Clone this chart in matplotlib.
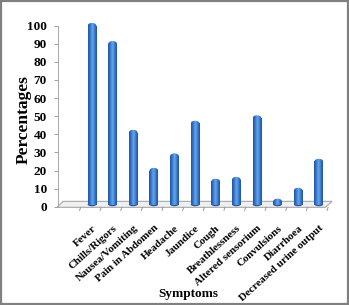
import numpy as np
import matplotlib
matplotlib.use("Agg")
import matplotlib.pyplot as plt
from matplotlib.patches import Polygon, Rectangle, Ellipse
from matplotlib.colors import LinearSegmentedColormap

categories = ["Fever", "Chills/Rigors", "Nausea/Vomiting", "Pain in Abdomen",
              "Headache", "Jaundice", "Cough", "Breathlessness",
              "Altered sensorium", "Convulsions", "Diarrhoea",
              "Decreased urine output"]
values = [100, 90, 41, 20, 28, 46, 14, 15, 49, 3, 9, 25]
yticks = list(range(0, 101, 10))

plt.rcParams['font.family'] = ['Liberation Serif', 'DejaVu Serif']

fig = plt.figure(figsize=(3.49, 3.05), dpi=100)
fig.patch.set_facecolor("white")
fig.add_artist(Rectangle((0.003, 0.003), 0.994, 0.994, transform=fig.transFigure,
                         fill=False, edgecolor="#808080", linewidth=1.6))

ymax = 103
ax = fig.add_axes([0.166, 0.322, 0.78, 0.594 * ymax / 100])
n = len(categories)
x = np.arange(n)
ax.set_xlim(-1.65, n - 0.45)

# floor
floor = Polygon([(-1.7, -0.3), (n - 0.69, -0.3), (n - 0.35, 3.0), (-1.4, 3.0)],
                closed=True, facecolor="#f0f0f0", edgecolor="#a8a8a8",
                linewidth=0.8, clip_on=False, zorder=1)
ax.add_patch(floor)

cmap = LinearSegmentedColormap.from_list(
    "cyl", ["#2353a0", "#3477cc", "#6aa6ea", "#3a7dd0", "#21509a"])
grad = np.linspace(0, 1, 64).reshape(1, -1)
w = 0.42
cap = 1.5
for xi, v in zip(x, values):
    ytop = v
    body = Rectangle((xi - w / 2, 1.2), w, max(ytop - 1.2, 0.1),
                     facecolor="none", edgecolor="none")
    ax.add_patch(body)
    im = ax.imshow(grad, extent=(xi - w / 2, xi + w / 2, 1.2, max(ytop, 1.3)),
                   aspect="auto", cmap=cmap, zorder=3, interpolation="bilinear")
    im.set_clip_path(body)
    top = Ellipse((xi, ytop), w, cap * 2, facecolor="none", edgecolor="none")
    ax.add_patch(top)
    im2 = ax.imshow(grad, extent=(xi - w / 2, xi + w / 2, ytop - cap, ytop + cap),
                    aspect="auto", cmap=cmap, zorder=3, interpolation="bilinear")
    im2.set_clip_path(top)
    bot = Ellipse((xi, 1.3), w, 2.0, facecolor="#2353a0", edgecolor="none", zorder=2)
    ax.add_patch(bot)
ax.set_xlim(-1.65, n - 0.45)
ax.set_ylim(0, ymax)

ax.set_xticks(x)
ax.set_xticklabels(categories, rotation=42, ha="right", rotation_mode="anchor",
                   fontsize=7.8, fontweight="bold")
ax.tick_params(axis="x", length=0, pad=12)
for b in np.arange(-0.5, n, 1.0):
    ax.plot([b - 0.05, b - 0.1], [-0.3, -2.0], color="#9a9a9a", lw=0.7,
            clip_on=False, zorder=1)

ax.set_yticks(yticks)
ax.set_yticklabels([str(t) for t in yticks], fontsize=9.5, fontweight="bold")
ax.tick_params(axis="y", length=3, color="#a0a0a0", width=0.7, pad=5)

for s in ["top", "right", "bottom"]:
    ax.spines[s].set_visible(False)
ax.spines["left"].set_color("#a8a8a8")
ax.spines["left"].set_linewidth(0.7)
ax.spines["left"].set_bounds(0, 100)
ax.patch.set_alpha(0)

fig.text(24 / 349, 1 - 120 / 305, "Percentages", rotation=90, ha="center",
         va="center", fontsize=12.5, fontweight="bold")
fig.text(188 / 349, 1 - 294 / 305, "Symptoms", ha="center", va="center",
         fontsize=9.5, fontweight="bold")

fig.savefig("out.png", dpi=100)
